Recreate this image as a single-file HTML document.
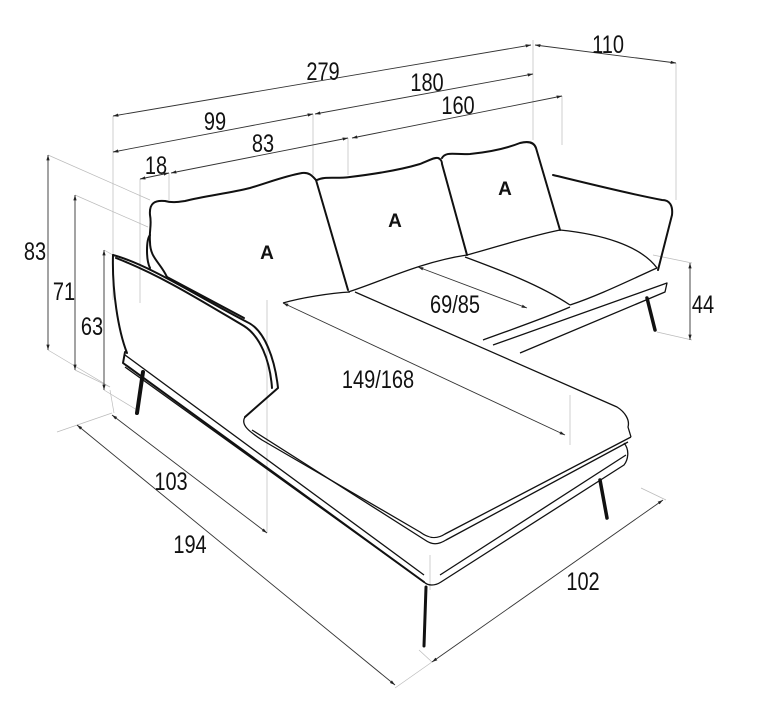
<!DOCTYPE html>
<html><head><meta charset="utf-8"><style>
html,body{margin:0;padding:0;background:#fff;}
svg{display:block;}
.d{stroke:#333;stroke-width:0.9;fill:none;}
.e{stroke:#bbb;stroke-width:0.7;fill:none;}
.s{stroke:#111;stroke-width:2;fill:none;stroke-linejoin:round;stroke-linecap:round;}
.t{stroke:#111;stroke-width:1.3;fill:none;stroke-linejoin:round;}
.lbl{font-family:"Liberation Sans Narrow","Liberation Sans",sans-serif;font-size:25px;fill:#111;}
.A{font-family:"Liberation Sans",sans-serif;font-weight:bold;font-size:19px;fill:#111;}
</style></head><body>
<svg width="781" height="715" viewBox="0 0 781 715" xmlns="http://www.w3.org/2000/svg">
<defs>
<marker id="a" viewBox="0 0 10 10" refX="10" refY="5" markerWidth="6" markerHeight="6" orient="auto-start-reverse"><path d="M0,2 L10,5 L0,8 z" fill="#222"/></marker>
</defs>
<g class="e">
<line x1="113" y1="116" x2="113" y2="300"/>
<line x1="140" y1="179" x2="140" y2="303"/>
<line x1="169" y1="173" x2="169" y2="200"/>
<line x1="313" y1="114" x2="313" y2="175"/>
<line x1="348" y1="138" x2="348" y2="175"/>
<line x1="533" y1="40" x2="533" y2="140"/>
<line x1="562" y1="96" x2="562" y2="145"/>
<line x1="676" y1="63" x2="676" y2="200"/>
<line x1="48" y1="155" x2="150" y2="200"/>
<line x1="75" y1="195" x2="148" y2="227"/>
<line x1="104" y1="250" x2="113" y2="255"/>
<line x1="48" y1="350" x2="110" y2="387"/>
<line x1="75" y1="370" x2="110" y2="387"/>
<line x1="104" y1="390" x2="137" y2="410"/>
<line x1="57" y1="432" x2="112" y2="413"/>
<line x1="114" y1="413" x2="110" y2="390"/>
<line x1="267" y1="300" x2="267" y2="533"/>
<line x1="570" y1="395" x2="570" y2="445"/>
<line x1="395" y1="688" x2="432" y2="662"/>
<line x1="419" y1="650" x2="432" y2="662"/>
<line x1="641" y1="488" x2="666" y2="500"/>
<line x1="653" y1="255" x2="692" y2="263"/>
<line x1="657" y1="332" x2="692" y2="340"/>
<line x1="430" y1="555" x2="430" y2="590"/>
</g>
<g class="d" marker-start="url(#a)" marker-end="url(#a)">
<line x1="113" y1="116" x2="531" y2="45"/>
<line x1="535" y1="45" x2="676" y2="63"/>
<line x1="113" y1="152" x2="313" y2="114"/>
<line x1="315" y1="114" x2="533" y2="74"/>
<line x1="171" y1="173" x2="348" y2="138"/>
<line x1="352" y1="138" x2="562" y2="96"/>
<line x1="140" y1="179" x2="169" y2="173"/>
<line x1="48" y1="155" x2="48" y2="350"/>
<line x1="75" y1="195" x2="75" y2="370"/>
<line x1="104" y1="250" x2="104" y2="390"/>
<line x1="112" y1="415" x2="267" y2="533"/>
<line x1="77" y1="425" x2="395" y2="685"/>
<line x1="432" y1="662" x2="663" y2="500"/>
<line x1="283" y1="303" x2="565" y2="435"/>
<line x1="418" y1="267" x2="527" y2="308"/>
<line x1="690" y1="263" x2="690" y2="340"/>
</g>
<g class="lbl" text-anchor="middle">
<g transform="translate(323,80) scale(0.8,1)"><text>279</text></g>
<g transform="translate(608,53) scale(0.8,1)"><text>110</text></g>
<g transform="translate(215,130) scale(0.8,1)"><text>99</text></g>
<g transform="translate(427,91) scale(0.8,1)"><text>180</text></g>
<g transform="translate(263,152) scale(0.8,1)"><text>83</text></g>
<g transform="translate(458,114) scale(0.8,1)"><text>160</text></g>
<g transform="translate(156,174) scale(0.8,1)"><text>18</text></g>
<g transform="translate(35,260) scale(0.8,1)"><text>83</text></g>
<g transform="translate(64,300) scale(0.8,1)"><text>71</text></g>
<g transform="translate(92,335) scale(0.8,1)"><text>63</text></g>
<g transform="translate(171,490) scale(0.8,1)"><text>103</text></g>
<g transform="translate(190,553) scale(0.8,1)"><text>194</text></g>
<g transform="translate(583,590) scale(0.8,1)"><text>102</text></g>
<g transform="translate(378,388) scale(0.8,1)"><text>149/168</text></g>
<g transform="translate(455,313) scale(0.8,1)"><text>69/85</text></g>
<g transform="translate(703,313) scale(0.8,1)"><text>44</text></g>
</g>
<g class="s">
<path d="M167,277 C160,262 150,258 150,242 C149,230 152,225 150,215 C149,203 155,200 165,201 C172,203 178,202 185,201 C205,196 230,193 250,188 C270,182 285,176 302,173 C310,172 313,177 316,180"/>
<path d="M150,235 C146,240 146,260 150,268"/>
<path d="M316,180 L348,290"/>
<path d="M317,180 C325,176 335,179 350,177 C375,174 400,170 420,164 C430,160 435,157 438,158 C441,159 442,162 442,164 L467,255"/>
<path d="M442,158 C446,151 455,155 470,154 C490,152 505,149 520,143 C528,141 534,142 536,148 L560,230"/>
<path d="M553,175 C590,184 630,194 662,200 C670,200 673,206 672,215 L658,270"/>
</g>
<g class="t">
<path d="M348,292 C380,282 420,262 467,255"/>
<path d="M467,255 C500,246 530,236 560,230 C600,234 640,245 657,268"/>
<path d="M465,257 C500,270 540,285 570,305"/>
<path d="M570,305 C600,295 630,280 657,268"/>
<path d="M483,340 C510,330 545,318 570,307"/>
<path d="M493,345 L667,283 L665,292 L520,353"/>
<path d="M283,303 C300,298 330,293 350,292"/>
<path d="M355,292 L617,407 C625,412 630,420 628,427 L631,437"/>
<path d="M245,417 C240,425 250,432 262,440 L420,532 C428,538 436,540 445,534 L631,437"/>
<path d="M252,430 L425,540 C432,545 438,545 446,540 L628,442"/>
<path d="M624,443 C630,450 628,460 624,465 L441,582 C435,586 428,586 424,582 L125,367"/>
<path d="M125,355 L424,575"/>
<path d="M440,575 L626,455"/>
</g>
<g class="s">
<path d="M113,255 C112,290 118,330 127,353"/>
<path d="M113,255 C150,265 200,298 247,322 C265,330 275,360 278,388 L245,417"/>
<path d="M116,258 C160,275 200,300 244,326 C260,336 270,360 272,388"/>
<path d="M167,277 L244,318"/>
<path d="M125,352 L123,363 L424,582"/>
</g>
<g stroke="#111" stroke-linecap="round" fill="none">
<line x1="143" y1="372" x2="137" y2="413" stroke-width="4"/>
<line x1="426" y1="587" x2="424" y2="646" stroke-width="3"/>
<line x1="600" y1="480" x2="607" y2="518" stroke-width="3.5"/>
<line x1="647" y1="298" x2="655" y2="330" stroke-width="3.5"/>
</g>
<g class="A" text-anchor="middle">
<text x="267" y="259">A</text>
<text x="395" y="227">A</text>
<text x="505" y="195">A</text>
</g>
</svg>
</body></html>
